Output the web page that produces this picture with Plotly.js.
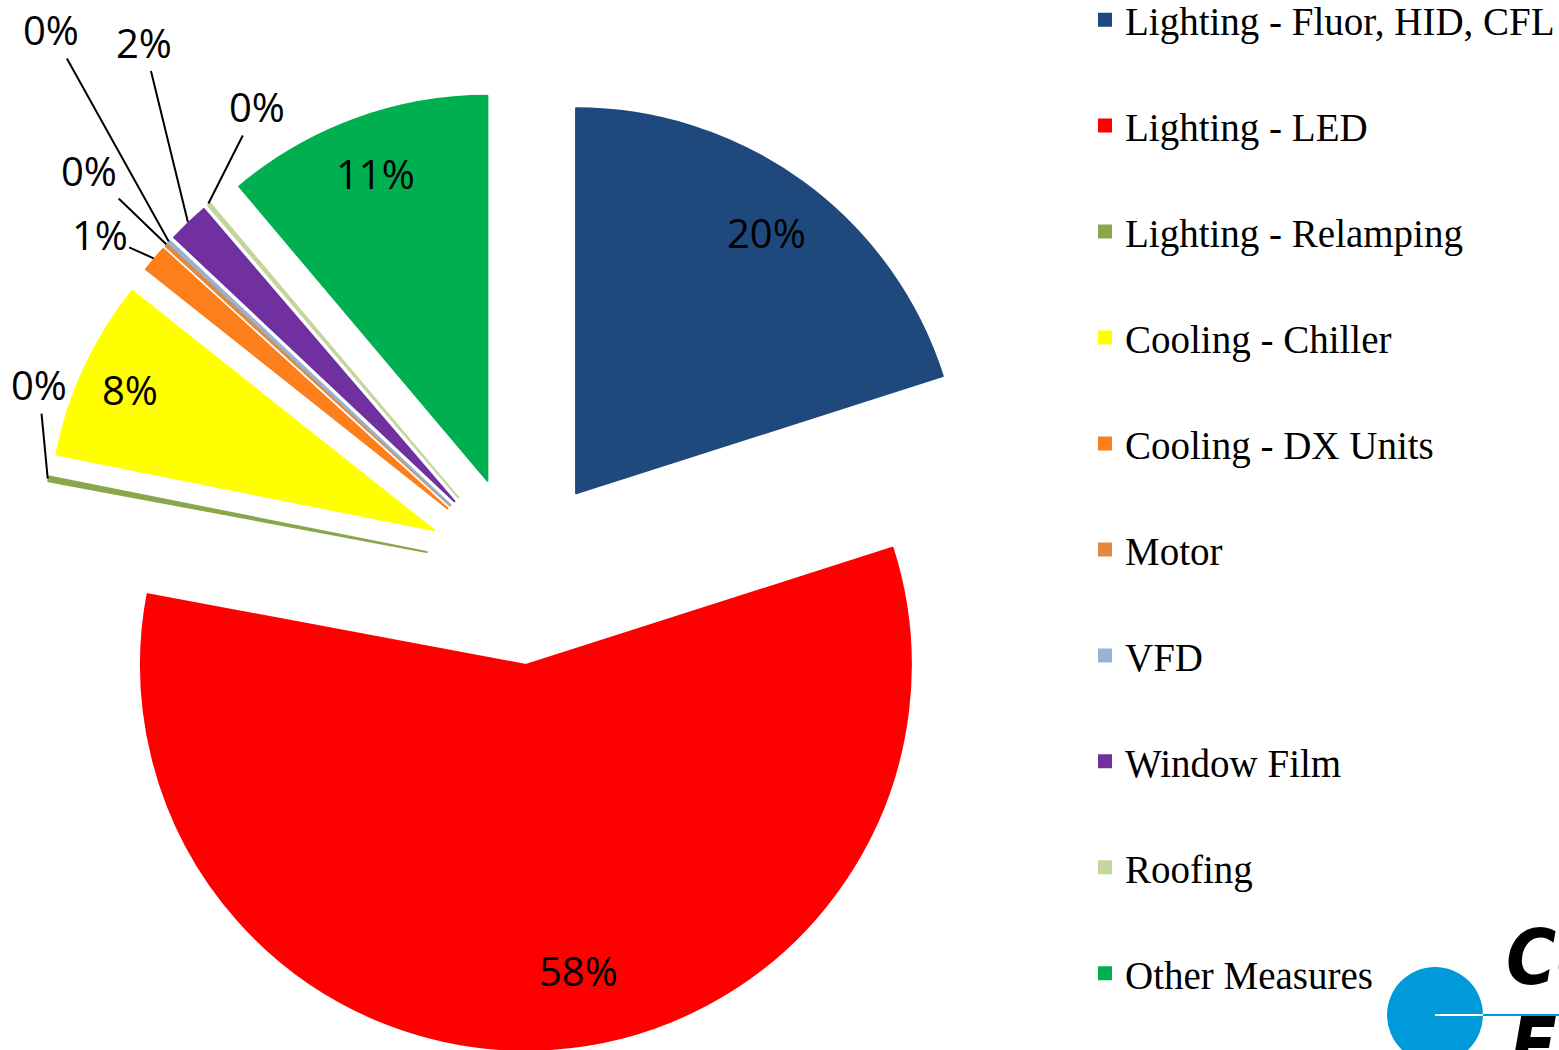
<!DOCTYPE html>
<html>
<head>
<meta charset="utf-8">
<script src="https://cdn.plot.ly/plotly-3.0.1.min.js"></script>
<style>html,body{margin:0;padding:0;background:#fff;}#chart{width:1559px;height:1050px;}</style>
</head>
<body>
<div id="chart"></div>
<script>
const categories = ["Lighting - Fluor, HID, CFL", "Lighting - LED", "Lighting - Relamping", "Cooling - Chiller", "Cooling - DX Units", "Motor", "VFD", "Window Film", "Roofing", "Other Measures"];
const shares = [20.08, 57.86, 0.2, 7.53, 1.1, 0.15, 0.1, 1.7, 0.13, 11.15];
const colors = ["#1F497D", "#FF0000", "#8AA64A", "#FFFF00", "#FD7F1B", "#E08A40", "#95B3D7", "#7030A0", "#C3D69B", "#00B050"];

// label placement style (not data): inside labels sit near the slice's mid-angle (da = degree shift)
// at a radius fraction; outside labels are offset (px) from the slice's outer arc with a leader line
const labelStyle = [
  {inside: true, rf: 0.84, da: 0},
  {inside: true, rf: 0.805, da: -6.3},
  {inside: false, ax: -9, ay: -94},
  {inside: true, rf: 0.87, da: 0},
  {inside: false, ax: -54, ay: -24},
  {inside: false, ax: -77, ay: -74},
  {inside: false, ax: -118, ay: -212},
  {inside: false, ax: -44, ay: -180},
  {inside: false, ax: 49, ay: -97},
  {inside: true, rf: 0.85, da: 0}
];

const W = 1559, H = 1050;
const PULL = 0.247;
const labelFont = {family: "Open Sans, sans-serif", size: 40, color: "#000"};
// legend labels get a blank second line to reproduce the wide row spacing
const legendLabels = categories.map(c => '<span style="font-size:39px">' + c + '</span><br>\u00a0');

const trace = {
  type: "pie",
  labels: legendLabels,
  values: shares,
  sort: false,
  direction: "clockwise",
  rotation: 0,
  pull: PULL,
  marker: {colors: colors, line: {width: 2, color: colors}},
  textinfo: "none",
  domain: {x: [40 / W, 1000 / W], y: [0, 960 / H]},
  hoverinfo: "none"
};

const logoFont = {family: "Liberation Sans Narrow, DejaVu Sans Condensed, Liberation Sans, sans-serif", size: 76, color: "#000"};
const layout = {
  width: W, height: H,
  margin: {l: 0, r: 0, t: 0, b: 0, autoexpand: false},
  paper_bgcolor: "#ffffff",
  showlegend: true,
  legend: {
    x: 1085 / W, xanchor: "left",
    y: 1.012, yanchor: "top",
    valign: "top",
    maxheight: 1300,
    font: {family: "Liberation Serif, serif", size: 39.6, color: "#000"},
    bgcolor: "rgba(0,0,0,0)",
    borderwidth: 0
  },
  shapes: [
    {type: "circle", xref: "paper", yref: "paper",
     x0: 1387 / W, x1: 1483 / W, y0: (H - 1063) / H, y1: (H - 967) / H,
     fillcolor: "#009ADA", line: {width: 0}},
    {type: "line", xref: "paper", yref: "paper",
     x0: 1435 / W, x1: 1483 / W, y0: (H - 1015) / H, y1: (H - 1015) / H,
     line: {color: "#ffffff", width: 2}},
    {type: "line", xref: "paper", yref: "paper",
     x0: 1483 / W, x1: 1 + 10 / W, y0: (H - 1015) / H, y1: (H - 1015) / H,
     line: {color: "#009ADA", width: 2}}
  ],
  annotations: [
    {xref: "paper", yref: "paper", x: 1504 / W, y: (H - 1004) / H, xanchor: "left", yanchor: "bottom",
     text: "<b><i>Co</i></b>", showarrow: false, font: logoFont},
    {xref: "paper", yref: "paper", x: 1508 / W, y: (H - 1092) / H, xanchor: "left", yanchor: "bottom",
     text: "<b><i>E</i></b>", showarrow: false, font: logoFont}
  ]
};

const gd = document.getElementById("chart");
Plotly.newPlot(gd, [trace], layout, {displayModeBar: false, staticPlot: true}).then(function () {
  const cd = gd.calcdata[0];
  const cd0 = cd[0];
  const anns = layout.annotations.slice();
  cd.forEach(function (pt, i) {
    const r = cd0.r;
    const ux = pt.pxmid[0] / r, uy = pt.pxmid[1] / r;
    const cx = cd0.cx + PULL * pt.pxmid[0];
    const cy = cd0.cy + PULL * pt.pxmid[1];
    const txt = Math.round(100 * pt.v / cd0.vTotal) + "%";
    const st = labelStyle[i];
    if (st.inside) {
      const a = st.da * Math.PI / 180;
      const vx = ux * Math.cos(a) - uy * Math.sin(a);
      const vy = ux * Math.sin(a) + uy * Math.cos(a);
      const px = cx + st.rf * r * vx, py = cy + st.rf * r * vy;
      anns.push({xref: "paper", yref: "paper", x: px / W, y: 1 - py / H,
                 xanchor: "center", yanchor: "middle", text: txt, showarrow: false, font: labelFont});
    } else {
      const px = cx + (r + 1) * ux, py = cy + (r + 1) * uy;
      anns.push({xref: "paper", yref: "paper", x: px / W, y: 1 - py / H,
                 text: txt, showarrow: true, arrowhead: 0, arrowwidth: 2, arrowcolor: "#000",
                 ax: st.ax, ay: st.ay, standoff: 0, font: labelFont});
    }
  });
  return Plotly.relayout(gd, {annotations: anns});
});
</script>
</body>
</html>
